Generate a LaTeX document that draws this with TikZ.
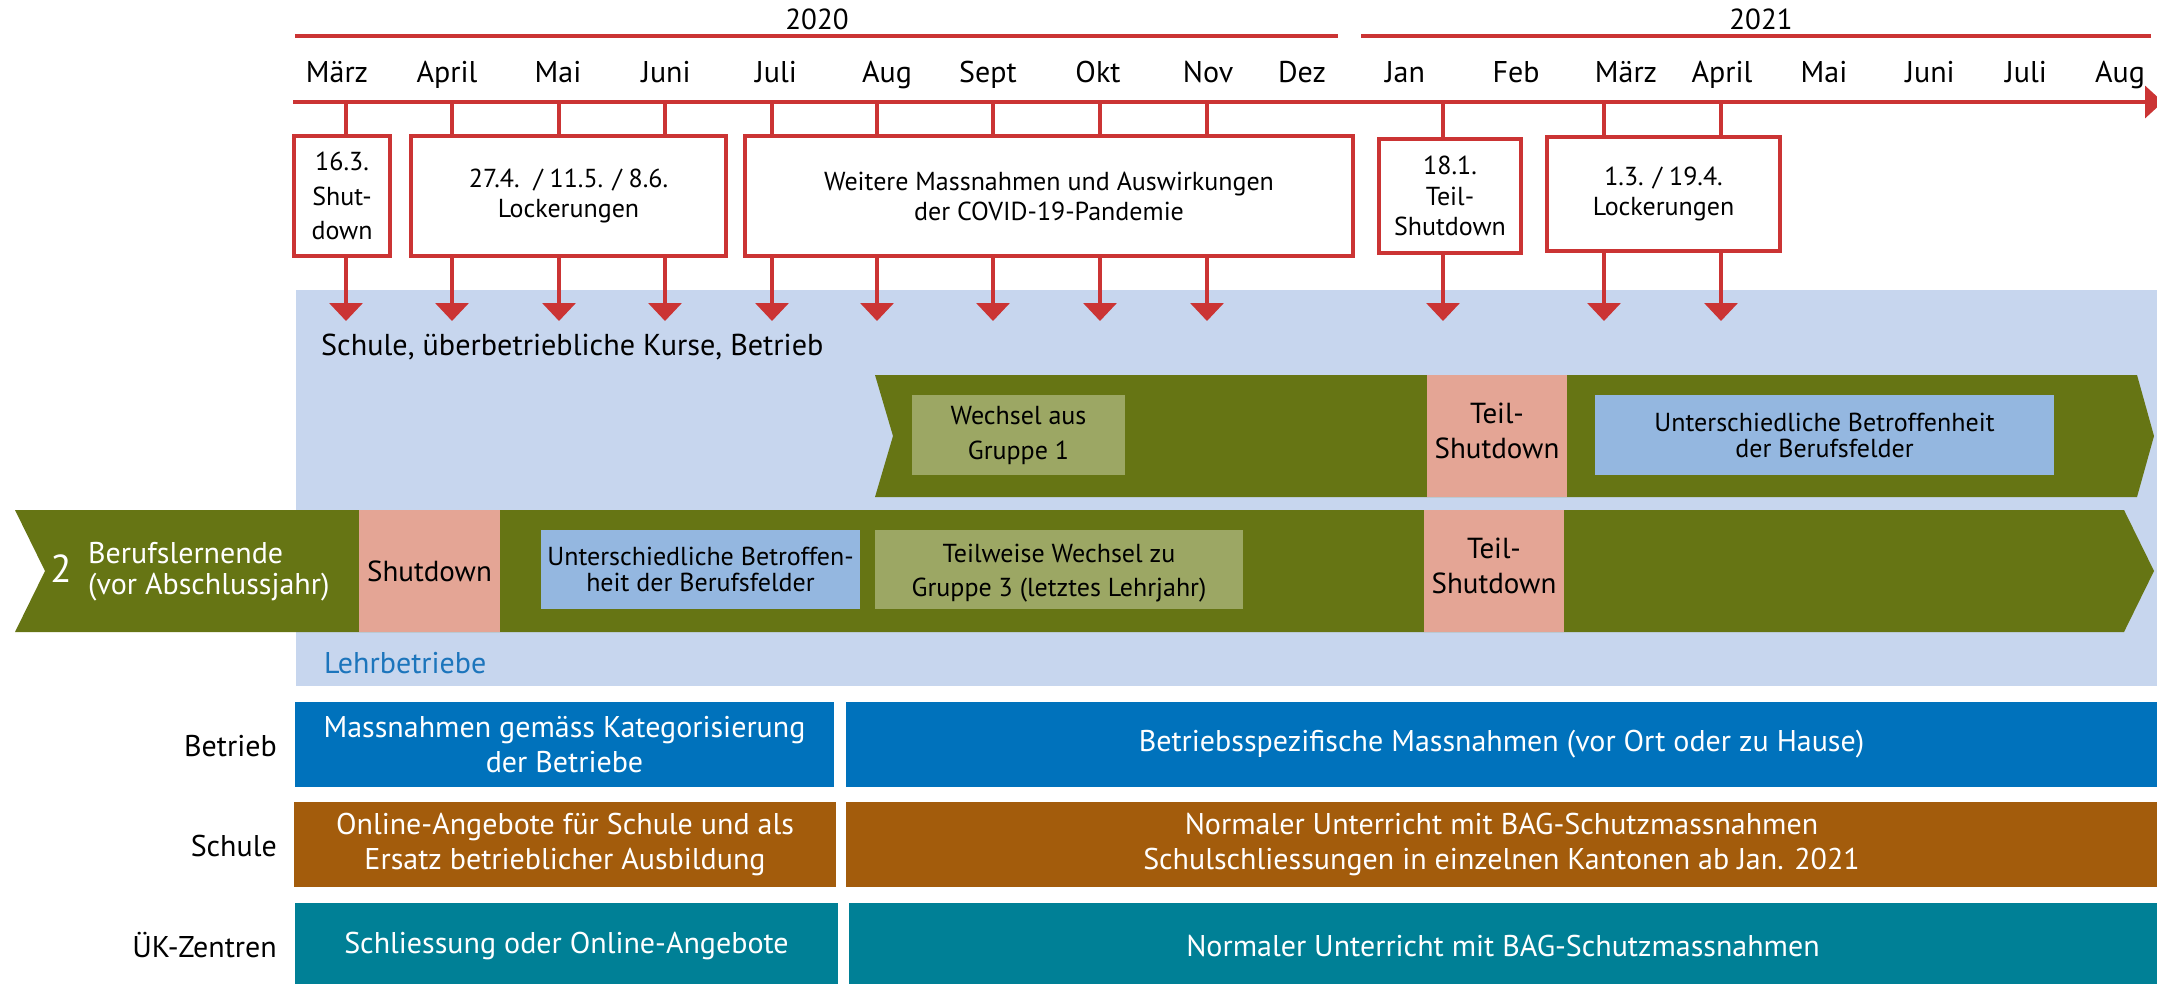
\documentclass[tikz,border=0pt]{standalone}
\usepackage{fontspec}
\setmainfont{PT Sans}
\usetikzlibrary{arrows.meta}

\definecolor{redc}{RGB}{203,52,52}
\definecolor{bgblue}{RGB}{199,214,238}
\definecolor{bandgreen}{RGB}{102,117,20}
\definecolor{pinkc}{RGB}{228,165,149}
\definecolor{olivec}{RGB}{156,167,100}
\definecolor{lightbluec}{RGB}{148,183,224}
\definecolor{betriebc}{RGB}{0,114,188}
\definecolor{schulec}{RGB}{163,92,12}
\definecolor{uekc}{RGB}{0,128,150}
\definecolor{lehrc}{RGB}{28,117,188}

\newcommand{\fz}[2]{\fontsize{#1pt}{#2pt}\selectfont}

\tikzset{
  redline/.style={draw=redc, line width=3.6pt},
  downarrow/.style={redline, -{Triangle[width=33pt,length=18pt]}},
  yearlbl/.style={anchor=base, inner sep=0pt, font=\fz{29}{34}},
  monthlbl/.style={anchor=base, inner sep=0pt, font=\fz{30}{36}},
  eventbox/.style={draw=redc, line width=3.6pt, fill=white, align=center, inner sep=0pt},
  bandbox/.style={inner sep=0pt, align=center, text=black},
  pinkbox/.style={bandbox, fill=pinkc, font=\fz{29}{35}},
  olivebox/.style={bandbox, fill=olivec},
  lbbox/.style={bandbox, fill=lightbluec},
  rowlbl/.style={anchor=base east, inner sep=0pt, font=\fz{30}{36}},
  rowbox/.style={inner sep=0pt, align=center, text=white, font=\fz{30}{35}, minimum height=85pt}
}

\begin{document}
\begin{tikzpicture}[x=1pt, y=-1pt]
\useasboundingbox (0,0) rectangle (2157,983);

% ---------- years ----------
\draw[redc, line width=3.5pt] (295,36) -- (1338,36);
\draw[redc, line width=3.5pt] (1361,36) -- (2151,36);
\node[yearlbl] (y2020) at (817,29) {2020};
\node[yearlbl] (y2021) at (1761,29) {2021};

% ---------- months ----------
\foreach \m/\x [count=\i] in {März/337, April/447, Mai/558, Juni/666, Juli/776, Aug/887, Sept/988, Okt/1098, Nov/1208, Dez/1302, Jan/1405, Feb/1516, März/1626, April/1722, Mai/1824, Juni/1930, Juli/2026, Aug/2120}
  \node[monthlbl] (mon\i) at (\x,82) {\m};

% ---------- time axis ----------
\coordinate (axisstart) at (293,102);
\coordinate (axisend) at (2163,102);
\draw[redline, -{Triangle[width=32pt,length=18pt]}] (axisstart) -- (axisend);

\coordinate (kMar) at (346,102);
\coordinate (kApr) at (452,102);
\coordinate (kMai) at (559,102);
\coordinate (kJun) at (665,102);
\coordinate (kJul) at (772,102);
\coordinate (kAug) at (877,102);
\coordinate (kSep) at (993,102);
\coordinate (kOkt) at (1100,102);
\coordinate (kNov) at (1207,102);
\coordinate (kJan) at (1443,102);
\coordinate (kMarB) at (1604,102);
\coordinate (kAprB) at (1721,102);
\coordinate (tipY) at (0,321);

% ---------- background ----------
\fill[bgblue] (296,290) rectangle (2157,686);

% ---------- event boxes ----------
\node[eventbox, minimum width=96.4pt, minimum height=120.4pt, font=\fz{26}{34.5}] (ev1) at (342,196) {16.3.\\Shut-\\down};
\node[eventbox, minimum width=315.4pt, minimum height=120.4pt, font=\fz{26}{30.7}] (ev2) at (568.5,196) {\raisebox{-3pt}{27.4.\ \ / 11.5. / 8.6.}\\\raisebox{-3pt}{Lockerungen}};
\node[eventbox, minimum width=608.4pt, minimum height=120.4pt, font=\fz{26}{30}] (ev3) at (1049,196) {Weitere Massnahmen und Auswirkungen\\der COVID-19-Pandemie};
\node[eventbox, minimum width=142.4pt, minimum height=114.4pt, font=\fz{26}{30.5}] (ev4) at (1450,196) {18.1.\\Teil-\\Shutdown};
\node[eventbox, minimum width=233.4pt, minimum height=114.4pt, font=\fz{26}{30}] (ev5) at (1663.5,194) {1.3. / 19.4.\\Lockerungen};

% ticks from the axis to the boxes
\draw[redline] (kMar) -- (kMar |- ev1.north);
\foreach \k in {kApr,kMai,kJun} \draw[redline] (\k) -- (\k |- ev2.north);
\foreach \k in {kJul,kAug,kSep,kOkt,kNov} \draw[redline] (\k) -- (\k |- ev3.north);
\draw[redline] (kJan) -- (kJan |- ev4.north);
\foreach \k in {kMarB,kAprB} \draw[redline] (\k) -- (\k |- ev5.north);

% arrows from the boxes down
\draw[downarrow] (kMar |- ev1.south) -- (kMar |- tipY);
\foreach \k in {kApr,kMai,kJun} \draw[downarrow] (\k |- ev2.south) -- (\k |- tipY);
\foreach \k in {kJul,kAug,kSep,kOkt,kNov} \draw[downarrow] (\k |- ev3.south) -- (\k |- tipY);
\draw[downarrow] (kJan |- ev4.south) -- (kJan |- tipY);
\foreach \k in {kMarB,kAprB} \draw[downarrow] (\k |- ev5.south) -- (\k |- tipY);

\node[anchor=base west, inner sep=0pt, font=\fz{30.2}{34}] (ctx) at (321,355) {Schule, überbetriebliche Kurse, Betrieb};

% ---------- upper band ----------
\fill[bandgreen] (875,375) -- (2137,375) -- (2154,436) -- (2137,497) -- (875,497) -- (893,436) -- cycle;
\node[olivebox, minimum width=213pt, minimum height=80pt, font=\fz{26}{35}] (wg1) at (1018.5,435) {Wechsel aus\\Gruppe 1};
\node[pinkbox, minimum width=140pt, minimum height=122pt] (ts1) at (1497,436) {};
\node[bandbox, font=\fz{29}{35}] (ts1t) at (1497,431) {Teil-\\Shutdown};
\node[lbbox, minimum width=459pt, minimum height=80pt, font=\fz{26}{26}] (ub1) at (1824.5,435) {Unterschiedliche Betroffenheit\\der Berufsfelder};

% ---------- lower band ----------
\fill[bandgreen] (15,510) -- (2124,510) -- (2154,571) -- (2124,632) -- (15,632) -- (45,571) -- cycle;
\node[anchor=base, inner sep=0pt, text=white, font=\fz{39}{40}] (grp) at (61,582) {2};
\node[anchor=west, inner sep=0pt, align=left, text=white, font=\fz{30}{31}] (bl) at (88,572) {Berufslernende\\(vor Abschlussjahr)};
\node[pinkbox, minimum width=141pt, minimum height=122pt] (sd) at (429.5,571) {Shutdown};
\node[lbbox, minimum width=319pt, minimum height=79pt, font=\fz{26}{26}] (ub2) at (700.5,569.5) {Unterschiedliche Betroffen-\\heit der Berufsfelder};
\node[olivebox, minimum width=368pt, minimum height=79pt] (tw) at (1059,569.5) {};
\node[bandbox, font=\fz{26}{34}] (twt) at (1059,573) {Teilweise Wechsel zu\\Gruppe 3 (letztes Lehrjahr)};
\node[pinkbox, minimum width=140pt, minimum height=122pt] (ts2) at (1494,571) {};
\node[bandbox, font=\fz{29}{35}] (ts2t) at (1494,566) {Teil-\\Shutdown};

\node[anchor=base west, inner sep=0pt, text=lehrc, font=\fz{30}{34}] (lehr) at (324,673) {Lehrbetriebe};

% ---------- actors ----------
\node[rowlbl] (lbB) at (277,756) {Betrieb};
\node[rowlbl] (lbS) at (277,856) {Schule};
\node[rowlbl] (lbU) at (277,957) {ÜK-Zentren};

\node[rowbox, fill=betriebc, minimum width=539pt] (b1) at (564.5,744.5) {Massnahmen gemäss Kategorisierung\\der Betriebe};
\node[rowbox, fill=betriebc, minimum width=1311pt] (b2) at (1501.5,744.5) {Betriebsspezifische Massnahmen (vor Ort oder zu Hause)};
\node[rowbox, fill=schulec, minimum width=542pt] (s1) at (565,844.5) {Online-Angebote für Schule und als\\Ersatz betrieblicher Ausbildung};
\node[rowbox, fill=schulec, minimum width=1311pt] (s2) at (1501.5,844.5) {Normaler Unterricht mit BAG-Schutzmassnahmen\\Schulschliessungen in einzelnen Kantonen ab Jan. 2021};
\node[rowbox, fill=uekc, minimum width=543pt] (u1) at (566.5,945.5) {Schliessung oder Online-Angebote};
\node[rowbox, fill=uekc, minimum width=1308pt] (u2) at (1503,945.5) {Normaler Unterricht mit BAG-Schutzmassnahmen};
\end{tikzpicture}
\end{document}
